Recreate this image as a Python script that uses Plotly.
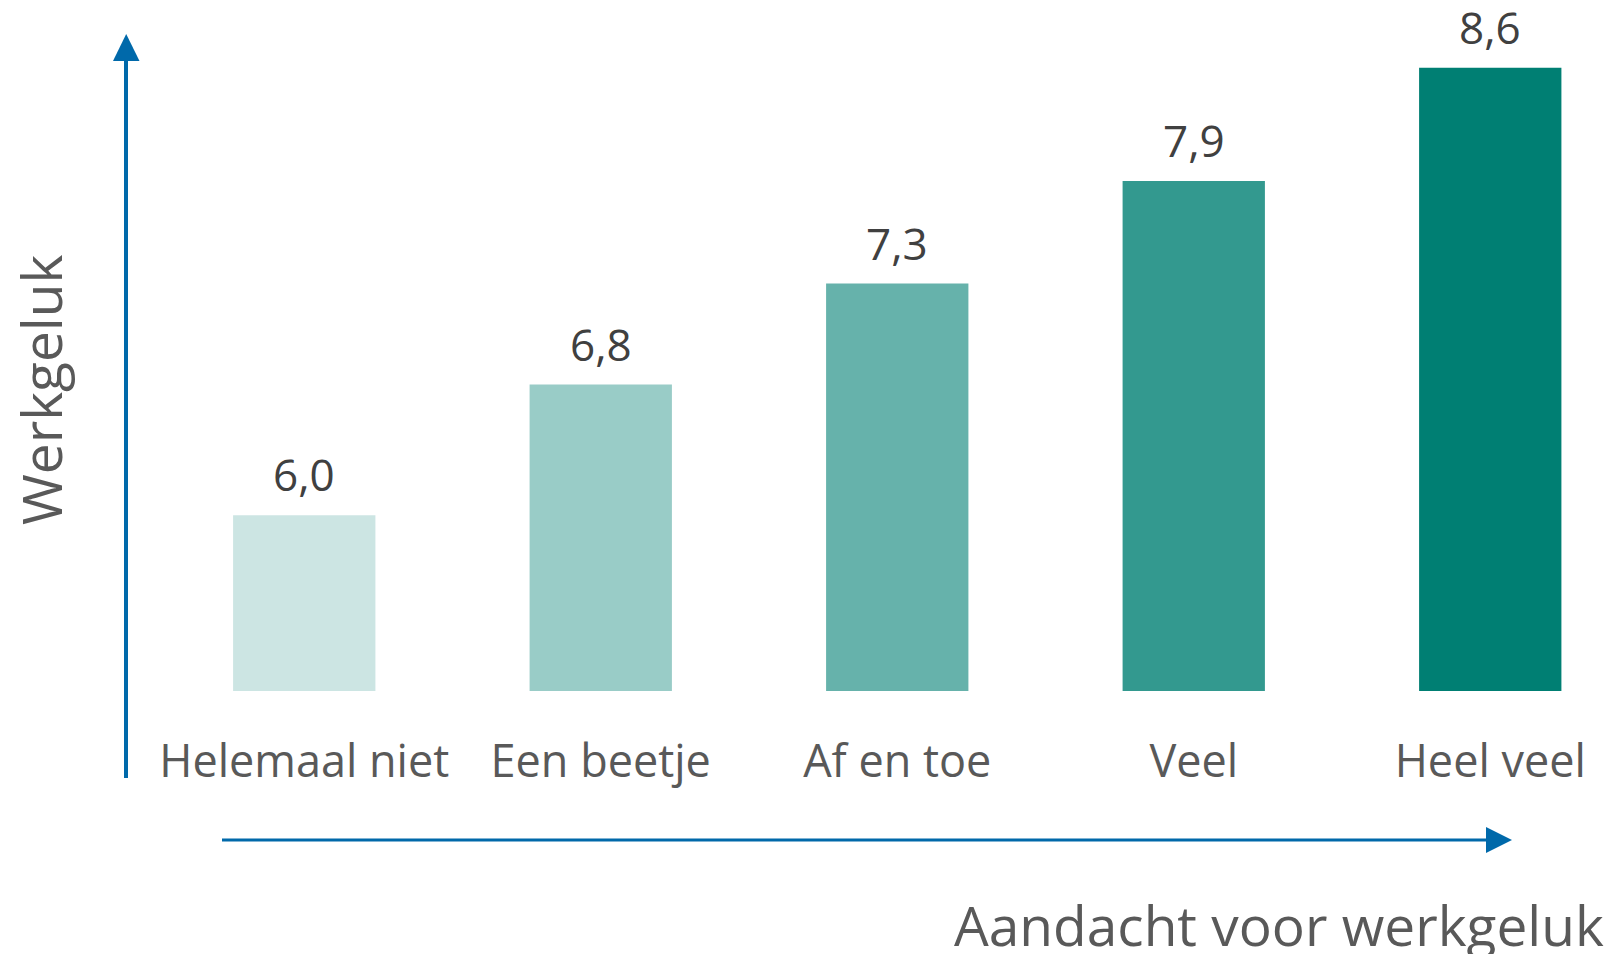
import plotly.graph_objects as go

categories = ["Helemaal niet", "Een beetje", "Af en toe", "Veel", "Heel veel"]
values = [6.01, 6.76, 7.34, 7.93, 8.58]
bar_colors = ["#CCE5E3", "#99CCC7", "#66B2AB", "#33998F", "#007F73"]
x_title = "Aandacht voor werkgeluk"
y_title = "Werkgeluk"

OFF = 8  # default page body margin
W, H = 1612 - OFF, 954 - OFF
PL, PB = 156, 691  # plot area left / bottom in page pixels
L = PL - OFF
T = 0
pw = W - L
ph = PB - OFF - T
B = H - T - ph

def px(x):
    return (x - OFF - L) / pw

def py(y):
    return (PB - y) / ph

FONT = "Open Sans, Segoe UI, sans-serif"
ARROW = "#0069AA"
step = 296.5
scale = 174.1

fig = go.Figure()
fig.add_trace(go.Bar(
    x=categories, y=values, marker_color=bar_colors, marker_line_width=0,
    width=0.48, hoverinfo="skip"))

annotations = []
for c, v in zip(categories, values):
    annotations.append(dict(
        x=c, y=v, xref="x", yref="y", text=f"{v:.1f}".replace(".", ","),
        showarrow=False, yanchor="bottom", yshift=9,
        font=dict(family=FONT, size=44, color="#404040")))

annotations.append(dict(
    x=px(1606), y=py(924), xref="paper", yref="paper", text=x_title,
    showarrow=False, xanchor="right", yanchor="middle",
    font=dict(family=FONT, size=55, color="#595959")))
annotations.append(dict(
    x=px(40), y=py(390), xref="paper", yref="paper", text=y_title,
    showarrow=False, xanchor="center", yanchor="middle", textangle=-90,
    font=dict(family=FONT, size=55, color="#595959")))

shapes = [
    dict(type="line", xref="paper", yref="paper", x0=px(126), x1=px(126),
         y0=py(778), y1=py(58), line=dict(color=ARROW, width=4)),
    dict(type="path", xref="paper", yref="paper",
         path=f"M {px(113)} {py(61)} L {px(139.5)} {py(61)} L {px(126.2)} {py(34)} Z",
         fillcolor=ARROW, line=dict(width=0)),
    dict(type="line", xref="paper", yref="paper", x0=px(222), x1=px(1488),
         y0=py(840), y1=py(840), line=dict(color=ARROW, width=3)),
    dict(type="path", xref="paper", yref="paper",
         path=f"M {px(1486)} {py(827)} L {px(1486)} {py(853)} L {px(1512)} {py(840)} Z",
         fillcolor=ARROW, line=dict(width=0)),
]

fig.update_layout(
    width=W, height=H,
    margin=dict(l=L, r=0, t=T, b=B),
    paper_bgcolor="white", plot_bgcolor="white",
    showlegend=False,
    xaxis=dict(range=[-0.5, -0.5 + pw / step], showgrid=False, zeroline=False,
               showline=False, ticks="", ticklabelstandoff=40,
               tickfont=dict(family=FONT, size=45, color="#595959"),
               fixedrange=True),
    yaxis=dict(range=[5.0, 5.0 + ph / scale], showgrid=False, zeroline=False,
               showline=False, showticklabels=False, ticks="", fixedrange=True),
    annotations=annotations, shapes=shapes,
)

fig.write_html("out.html")
